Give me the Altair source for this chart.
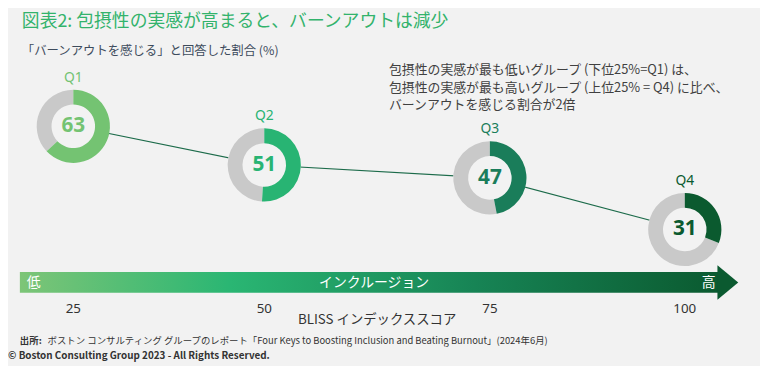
import altair as alt
import pandas as pd

# ---- data ----
quartiles = ["Q1", "Q2", "Q3", "Q4"]
scores = [25, 50, 75, 100]
burnout = [63, 51, 47, 31]
tick_labels = ["25", "50", "75", "100"]
ring_colors = ["#74c372", "#28b473", "#1a7d5a", "#0b5a2f"]

title_text = "図表2: 包摂性の実感が高まると、バーンアウトは減少"
subtitle_text = "「バーンアウトを感じる」と回答した割合 (%)"
note_lines = [
    "包摂性の実感が最も低いグループ (下位25%=Q1) は、",
    "包摂性の実感が最も高いグループ (上位25% = Q4) に比べ、",
    "バーンアウトを感じる割合が2倍",
]
axis_title = "BLISS インデックススコア"
arrow_low = "低"
arrow_mid = "インクルージョン"
arrow_high = "高"
source_label = "出所:"
source_text = "ボストン コンサルティング グループのレポート「Four Keys to Boosting Inclusion and Beating Burnout」(2024年6月)"
copyright_text = "© Boston Consulting Group 2023 - All Rights Reserved."

df = pd.DataFrame({
    "q": quartiles,
    "score": scores,
    "burnout": burnout,
    "label": tick_labels,
    "zero": [0] * len(quartiles),
    "full": [100] * len(quartiles),
})
one = pd.DataFrame({"k": [0]})

BG = "#f2f2f2"
JP = "Noto Sans CJK JP"
LAT = "Noto Sans"

xs = alt.Scale(domain=scores, range=[66, 259, 487, 684])
ys = alt.Scale(domain=[0, 100], range=[323, -3], nice=False, zero=False)
cs = alt.Scale(domain=quartiles, range=ring_colors)
ts = alt.Scale(domain=[0, 100], range=[0, 6.283185307])

X = alt.X("score:Q", scale=xs, axis=None)
Y = alt.Y("burnout:Q", scale=ys, axis=None)
C = alt.Color("q:N", scale=cs, legend=None)

base = alt.Chart(df)

line = base.mark_line(color="#1c6b4a", strokeWidth=1.2).encode(x=X, y=Y)

disc = base.mark_arc(outerRadius=37, innerRadius=0, fill=BG).encode(
    x=X, y=Y,
    theta=alt.Theta("zero:Q", scale=ts), theta2="full:Q",
)
grey = base.mark_arc(outerRadius=37, innerRadius=22, fill="#c9c9c9").encode(
    x=X, y=Y,
    theta=alt.Theta("burnout:Q", scale=ts), theta2="full:Q",
)
ring = base.mark_arc(outerRadius=37, innerRadius=22).encode(
    x=X, y=Y,
    theta=alt.Theta("zero:Q", scale=ts), theta2="burnout:Q",
    color=C,
)
num = base.mark_text(font=LAT, fontSize=21, fontWeight="bold", baseline="middle").encode(
    x=X, y=Y, text="burnout:Q", color=C
)
qlab = base.mark_text(font=LAT, fontSize=14, dy=-49, baseline="middle").encode(
    x=X, y=Y, text="q:N", color=C
)
ticks = base.mark_text(font=LAT, fontSize=13.5, color="#333333", baseline="middle").encode(
    x=X, y=alt.value(302), text="label:N"
)

grad = alt.Gradient(
    gradient="linear",
    stops=[
        alt.GradientStop(offset=0, color="#7dc577"),
        alt.GradientStop(offset=0.3, color="#2ab673"),
        alt.GradientStop(offset=0.65, color="#178455"),
        alt.GradientStop(offset=1, color="#0b5a30"),
    ],
    x1=0, x2=1, y1=0, y2=0,
)
bar = alt.Chart(one).mark_rect(color=grad).encode(
    x=alt.value(12), x2=alt.value(719), y=alt.value(265), y2=alt.value(286)
)
head = alt.Chart(one).mark_point(
    shape="M -0.2 -1 L 1 0 L -0.2 1 Z", size=1225, filled=True,
    color="#0b5a30", opacity=1, strokeWidth=0
).encode(x=alt.value(720.5), y=alt.value(275.5))


def txt(s, x, y, size, color, align="left", weight="normal", font=JP, baseline="middle", lh=None):
    kw = dict(text=s, font=font, fontSize=size, color=color, align=align,
              fontWeight=weight, baseline=baseline)
    if lh is not None:
        kw["lineHeight"] = lh
    return alt.Chart(one).mark_text(**kw).encode(x=alt.value(x), y=alt.value(y))


layers = [
    bar, head, line, disc, grey, ring, num, qlab, ticks,
    txt(arrow_low, 26, 276, 14, "white", align="center"),
    txt(arrow_mid, 370, 276, 14, "white", align="center"),
    txt(arrow_high, 708, 276, 14, "white", align="center"),
    txt(axis_title, 373, 313, 13.5, "#333333", align="center"),
    txt(title_text, 14, 12, 18, "#32b36c"),
    txt(subtitle_text, 14, 42, 12.5, "#3d4b5c"),
    txt(note_lines, 385, 55, 13, "#404040", baseline="top", lh=17.5),
    txt(source_label, 12, 335, 9.5, "#333333", weight="bold"),
    txt(source_text, 40, 335, 9.5, "#333333"),
    txt(copyright_text, 0, 350, 10, "#333333", weight="bold"),
]

chart = alt.layer(*layers).properties(
    width=760, height=358, padding=0, autosize="none", background=BG
).configure_view(stroke=None)

chart.save("out.html", embed_options={"renderer": "svg", "actions": False})
